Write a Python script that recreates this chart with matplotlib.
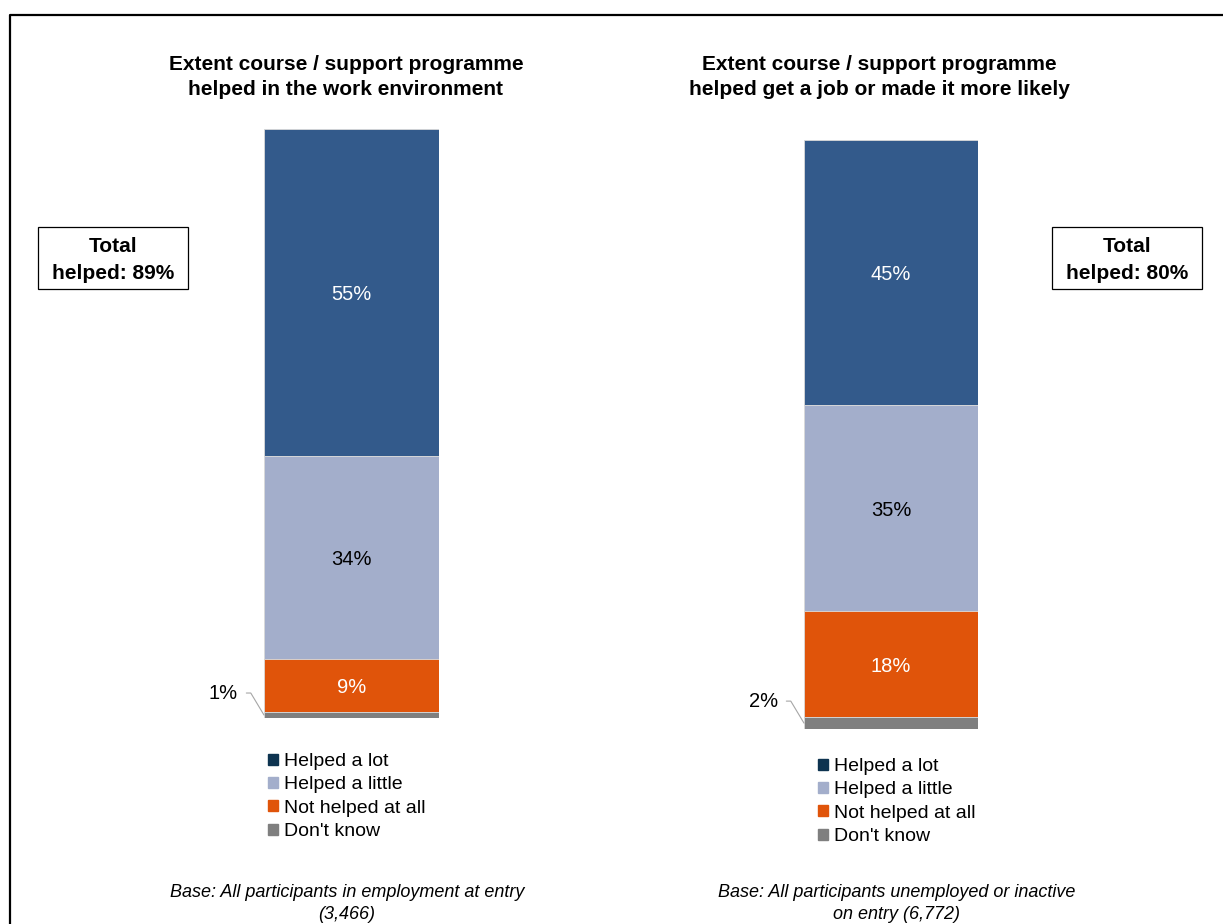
import matplotlib.pyplot as plt
import matplotlib.patches as mpatches
from matplotlib.lines import Line2D

plt.rcParams['font.family'] = ['Liberation Sans', 'DejaVu Sans']

# data
categories = ['Helped a lot', 'Helped a little', 'Not helped at all', "Don't know"]
work_env = [55, 34, 9, 1]
get_job = [45, 35, 18, 2]
totals = [89, 80]
titles = ['Extent course / support programme\nhelped in the work environment',
          'Extent course / support programme\nhelped get a job or made it more likely']
bases = ['Base: All participants in employment at entry\n(3,466)',
         'Base: All participants unemployed or inactive\non entry (6,772)']

bar_colors = ['#335A8B', '#A3AECB', '#E0540A', '#7F7F7F']
legend_colors = ['#0D3350', '#A3AECB', '#E0540A', '#7F7F7F']
label_colors = ['white', 'black', 'white', 'black']

W, H = 1223, 924
fig = plt.figure(figsize=(W / 100, H / 100), dpi=100)


def fbox(x0, y0, x1, y1):
    # pixel box (top-left origin) -> figure fraction [l, b, w, h]
    return [x0 / W, 1 - y1 / H, (x1 - x0) / W, (y1 - y0) / H]


panels = [
    dict(vals=work_env, box=(264, 129, 439, 718), title_x=346, base_x=347,
         tot_box=(38, 227, 188, 289), leg=(268, 753)),
    dict(vals=get_job, box=(804, 140, 978, 729), title_x=879, base_x=897,
         tot_box=(1052, 227, 1202, 289), leg=(818, 758)),
]

for i, p in enumerate(panels):
    ax = fig.add_axes(fbox(*p['box']))
    vals = p['vals']
    # stack from top: first category at the top
    bottom = sum(vals)
    for v, c, lc, cat in zip(vals, bar_colors, label_colors, categories):
        bottom -= v
        ax.bar(0, v, bottom=bottom, width=1.0, color=c, edgecolor='#D9D9D9', linewidth=0.6)
        mid = bottom + v / 2
        if cat == "Don't know":
            ax.annotate(f'{v}%', xy=(-0.5, mid), xytext=(-26, 22), textcoords='offset pixels',
                        ha='right', va='center', fontsize=14.5, color='black',
                        arrowprops=dict(arrowstyle='-', color='#A6A6A6', lw=0.8,
                                        shrinkA=4, shrinkB=0,
                                        connectionstyle='angle,angleA=0,angleB=121,rad=0'))
        else:
            ax.annotate(f'{v}%', xy=(0, mid), xytext=(0, -2), textcoords='offset pixels',
                        ha='center', va='center', fontsize=14.5, color=lc)
    ax.set_xlim(-0.5, 0.5)
    ax.set_ylim(0, sum(vals))
    ax.axis('off')

    handles = [mpatches.Patch(color=c) for c in legend_colors]
    fig.legend(handles, categories, loc='upper left',
               bbox_to_anchor=(p['leg'][0] / W, 1 - p['leg'][1] / H),
               frameon=False, fontsize=14, handlelength=0.5, handleheight=0.5,
               handletextpad=0.3, labelspacing=0.33, borderpad=0, borderaxespad=0)

    fig.text(p['title_x'] / W, 1 - 55 / H, titles[i], ha='center', va='top',
             fontsize=15, fontweight='bold', linespacing=1.4)
    fig.text(p['base_x'] / W, 1 - 884 / H, bases[i], ha='center', va='top',
             fontsize=13, style='italic', linespacing=1.35)

    x0, y0, x1, y1 = p['tot_box']
    fig.patches.append(mpatches.Rectangle((x0 / W, 1 - y1 / H), (x1 - x0) / W, (y1 - y0) / H,
                                          transform=fig.transFigure, fill=False,
                                          edgecolor='black', linewidth=0.9))
    fig.text((x0 + x1) / 2 / W, 1 - ((y0 + y1) / 2 + 2) / H, f'Total\nhelped: {totals[i]}%',
             ha='center', va='center', fontsize=15, fontweight='bold', linespacing=1.5)

# outer frame (left and top edges only visible)
fig.add_artist(Line2D([10 / W, 10 / W, 1.0], [0.0, 1 - 15 / H, 1 - 15 / H],
                      transform=fig.transFigure, color='black', linewidth=1.6))

fig.savefig('out.png', dpi=100)
